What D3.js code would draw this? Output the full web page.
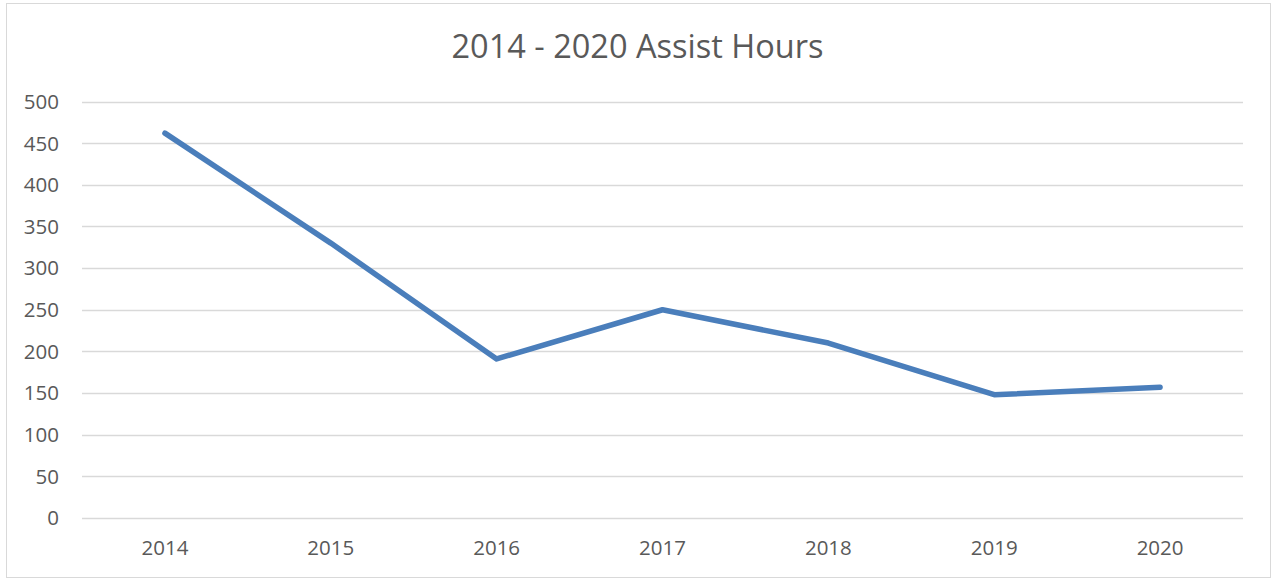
<!DOCTYPE html>
<html>
<head>
<meta charset="utf-8">
<script src="https://cdn.jsdelivr.net/npm/d3@7"></script>
<style>
  html, body { margin: 0; padding: 0; background: #fff; }
  svg text { font-family: "Open Sans", "Liberation Sans", Arial, sans-serif; fill: #595959; }
</style>
</head>
<body>
<svg id="chart"></svg>
<script>
// Chart data
const years = ["2014", "2015", "2016", "2017", "2018", "2019", "2020"];
const assistHours = [462, 330, 191, 250, 210, 148, 157];
const yTicks = [0, 50, 100, 150, 200, 250, 300, 350, 400, 450, 500];
const chartTitle = "2014 - 2020 Assist Hours";

const width = 1275, height = 579;
const margin = { top: 101.5, right: 32, bottom: 61, left: 82 };

const svg = d3.select("#chart")
    .attr("width", width)
    .attr("height", height);

// Outer chart border
svg.append("rect")
    .attr("x", 6.5).attr("y", 3.5)
    .attr("width", 1264).attr("height", 574)
    .attr("fill", "#fff")
    .attr("stroke", "#d9d9d9")
    .attr("stroke-width", 1);

// Title
svg.append("text")
    .attr("x", width / 2)
    .attr("y", 58)
    .attr("text-anchor", "middle")
    .style("font-size", "32.5px")
    .text(chartTitle);

const x = d3.scaleBand()
    .domain(years)
    .range([margin.left, width - margin.right]);

const y = d3.scaleLinear()
    .domain([0, 500])
    .range([height - margin.bottom, margin.top]);

// Gridlines
svg.append("g")
    .selectAll("line")
    .data(yTicks)
    .enter()
    .append("line")
    .attr("x1", margin.left)
    .attr("x2", width - margin.right)
    .attr("y1", d => Math.round(y(d)) + 0.5)
    .attr("y2", d => Math.round(y(d)) + 0.5)
    .attr("stroke", "#d9d9d9")
    .attr("stroke-width", 1.5);

// Y axis labels
svg.append("g")
    .selectAll("text")
    .data(yTicks)
    .enter()
    .append("text")
    .attr("x", 59)
    .attr("y", d => y(d))
    .attr("dy", "0.36em")
    .attr("text-anchor", "end")
    .style("font-size", "20.5px")
    .text(d => d);

// X axis labels
svg.append("g")
    .selectAll("text")
    .data(years)
    .enter()
    .append("text")
    .attr("x", d => x(d) + x.bandwidth() / 2)
    .attr("y", 555)
    .attr("text-anchor", "middle")
    .style("font-size", "20.5px")
    .text(d => d);

// Series line
const line = d3.line()
    .x((d, i) => x(years[i]) + x.bandwidth() / 2)
    .y(d => y(d));

svg.append("path")
    .datum(assistHours)
    .attr("d", line)
    .attr("fill", "none")
    .attr("stroke", "#4a7ebb")
    .attr("stroke-width", 5.5)
    .attr("stroke-linecap", "round")
    .attr("stroke-linejoin", "round");
</script>
</body>
</html>
